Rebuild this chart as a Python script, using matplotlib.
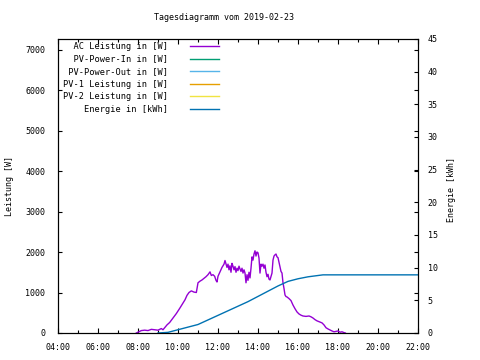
import matplotlib
matplotlib.use("Agg")
import matplotlib.pyplot as plt

title = "Tagesdiagramm vom 2019-02-23"
series_names = ["AC Leistung in [W]", "PV-Power-In in [W]", "PV-Power-Out in [W]",
                "PV-1 Leistung in [W]", "PV-2 Leistung in [W]", "Energie in [kWh]"]
series_colors = ["#9400D3", "#009E73", "#56B4E9", "#E69F00", "#F0E442", "#0072B2"]

ac_times = ["07:55", "08:05", "08:10", "08:20", "08:30", "08:40", "08:50", "09:00", "09:10", "09:15",
            "09:20", "09:27", "09:35", "09:45", "09:55", "10:06", "10:15", "10:21", "10:27", "10:33",
            "10:40", "10:48", "10:55", "11:00", "11:06", "11:12", "11:18", "11:24", "11:30", "11:36",
            "11:40", "11:45", "11:50", "11:54", "11:57", "12:00", "12:06", "12:12", "12:18", "12:21",
            "12:24", "12:27", "12:30", "12:33", "12:36", "12:39", "12:42", "12:45", "12:48", "12:51",
            "12:54", "12:57", "13:00", "13:03", "13:06", "13:09", "13:12", "13:15", "13:18", "13:21",
            "13:24", "13:27", "13:30", "13:33", "13:36", "13:39", "13:42", "13:45", "13:48", "13:51",
            "13:54", "13:57", "14:00", "14:03", "14:06", "14:09", "14:12", "14:15", "14:18", "14:21",
            "14:24", "14:27", "14:30", "14:33", "14:36", "14:39", "14:42", "14:45", "14:48", "14:51",
            "14:54", "14:57", "15:00", "15:03", "15:06", "15:09", "15:12", "15:15", "15:18", "15:21",
            "15:24", "15:27", "15:33", "15:39", "15:45", "15:51", "15:57", "16:03", "16:09", "16:15",
            "16:24", "16:33", "16:39", "16:45", "16:51", "16:57", "17:06", "17:12", "17:18", "17:24",
            "17:30", "17:36", "17:42", "17:48", "17:54", "18:00", "18:06", "18:12", "18:18", "18:22"]
ac_power = [0, 40, 60, 70, 60, 90, 80, 70, 110, 80,
            130, 200, 260, 370, 480, 620, 740, 820, 930, 1000,
            1040, 1010, 1000, 1240, 1280, 1310, 1350, 1390, 1440, 1510,
            1420, 1440, 1400, 1300, 1260, 1400, 1510, 1620, 1700, 1790,
            1700, 1620, 1700, 1560, 1660, 1500, 1720, 1650, 1560, 1640,
            1500, 1600, 1540, 1650, 1580, 1520, 1600, 1480, 1560, 1480,
            1240, 1440, 1300, 1500, 1360, 1600, 1880, 1800, 1950, 2030,
            1900, 2000, 1980, 1850, 1480, 1700, 1650, 1700, 1600, 1680,
            1500, 1390, 1450, 1330, 1310, 1400, 1480, 1800, 1900, 1930,
            1950, 1880, 1860, 1750, 1630, 1520, 1480, 1240, 1100, 940,
            900, 890, 850, 800, 690, 600, 520, 470, 440, 420,
            410, 420, 400, 370, 330, 300, 270, 250, 200, 130,
            100, 75, 50, 30, 40, 50, 20, 30, 10, 0]

energy_times = ["09:00", "09:30", "10:00", "10:30", "11:00", "11:30", "12:00", "12:30", "13:00",
                "13:30", "14:00", "14:30", "15:00", "15:30", "16:00", "16:30", "17:00", "17:15", "22:00"]
energy_kwh = [0.0, 0.1, 0.5, 0.9, 1.3, 2.0, 2.7, 3.4, 4.1,
              4.8, 5.6, 6.4, 7.2, 7.9, 8.3, 8.6, 8.8, 8.9, 8.9]

x_ticks = [4, 6, 8, 10, 12, 14, 16, 18, 20, 22]
x_ticklabels = ["04:00", "06:00", "08:00", "10:00", "12:00", "14:00", "16:00", "18:00", "20:00", "22:00"]
y_ticks = [0, 1000, 2000, 3000, 4000, 5000, 6000, 7000]
y2_ticks = [0, 5, 10, 15, 20, 25, 30, 35, 40, 45]


def to_hours(t):
    h, m = t.split(":")
    return int(h) + int(m) / 60.0


FONT = "DejaVu Sans Mono"
FS = 6
plt.rcParams["font.family"] = FONT

fig = plt.figure(figsize=(4.8, 3.6), dpi=100)
W, H = 480, 360
L, R, T, B = 58, 418, 39, 333
ax = fig.add_axes([L / W, 1 - B / H, (R - L) / W, (B - T) / H])
ax2 = ax.twinx()

ax.set_xlim(4, 22)
ax.set_ylim(0, 7260)
ax2.set_ylim(0, 45)

h_ac, = ax.plot([to_hours(t) for t in ac_times], ac_power, color=series_colors[0], lw=1.0)
h_in, = ax.plot([], [], color=series_colors[1], lw=1.0)
h_out, = ax.plot([], [], color=series_colors[2], lw=1.0)
h_p1, = ax.plot([], [], color=series_colors[3], lw=1.0)
h_p2, = ax.plot([], [], color=series_colors[4], lw=1.0)
h_en, = ax2.plot([to_hours(t) for t in energy_times], energy_kwh, color=series_colors[5], lw=1.0)

ax.set_xticks(x_ticks)
ax.set_xticklabels(x_ticklabels)
ax.set_xticks(list(range(4, 23)), minor=True)
ax.set_yticks(y_ticks)
ax.set_yticklabels([str(v) for v in y_ticks])
ax2.set_yticks(y2_ticks)
ax2.set_yticklabels([str(v) for v in y2_ticks])

for a in (ax, ax2):
    for s in a.spines.values():
        s.set_linewidth(0.8)
        s.set_color("black")

ax.tick_params(axis="x", which="major", direction="in", length=3.5, width=0.8,
               top=True, labelsize=FS, pad=7)
ax.tick_params(axis="x", which="minor", direction="in", length=2, width=0.8, top=True)
ax.tick_params(axis="y", which="major", direction="in", length=3, width=0.8,
               right=True, labelsize=FS, pad=9)
ax2.tick_params(axis="y", which="major", direction="in", length=3, width=0.8,
                labelsize=FS, pad=7)

fig.text(223.5 / W, 1 - 18 / H, title, ha="center", va="center", fontsize=FS)
fig.text(10 / W, 1 - 186 / H, "Leistung [W]", rotation=90, ha="center", va="center", fontsize=FS)
fig.text(452 / W, 1 - 190 / H, "Energie [kWh]", rotation=90, ha="center", va="center", fontsize=FS)

handles = [h_ac, h_in, h_out, h_p1, h_p2, h_en]
maxlen = max(len(n) for n in series_names)
labels = [n.rjust(maxlen) for n in series_names]
leg = ax2.legend(handles, labels, loc="upper left",
                 bbox_to_anchor=((63 - L) / (R - L), (B - 42) / (B - T)),
                 frameon=False, markerfirst=False, fontsize=6.2,
                 handlelength=3.3, handletextpad=2.6, labelspacing=0.42,
                 borderpad=0, borderaxespad=0)

fig.savefig("out.png", dpi=100)
